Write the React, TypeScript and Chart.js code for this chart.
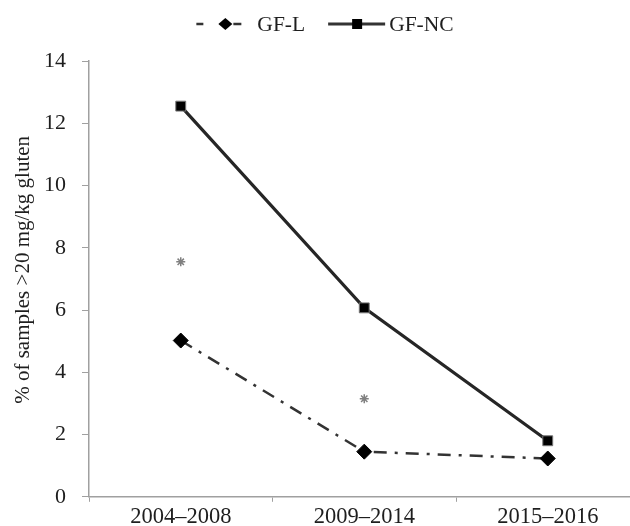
import React, { useEffect, useRef } from "react";
import { Chart, registerables } from "chart.js";

Chart.register(...registerables);

const categories = ["2004–2008", "2009–2014", "2015–2016"];
const gfL = [5.02, 1.45, 1.23];
const gfNC = [12.55, 6.07, 1.8];
const asterisks = [7.55, 3.15, null];
const yTicks = [0, 2, 4, 6, 8, 10, 12, 14];
const yTitle = "% of samples >20 mg/kg gluten";
const legendLabels = ["GF-L", "GF-NC"];

const FONT = "'Liberation Serif', 'Times New Roman', serif";
const INK = "#1e1e1e";
const AXIS = "#a0a0a0";

const legendPlugin = {
  id: "customLegend",
  afterDraw(chart: any) {
    const ctx = chart.ctx;
    ctx.save();
    // y-axis title
    ctx.font = `21px ${FONT}`;
    ctx.fillStyle = INK;
    ctx.textAlign = "center";
    ctx.textBaseline = "middle";
    ctx.translate(23, (chart.chartArea.top + chart.chartArea.bottom) / 2 - 9);
    ctx.rotate(-Math.PI / 2);
    ctx.fillText(yTitle, 0, 0);
    ctx.restore();

    ctx.save();
    ctx.font = `21.5px ${FONT}`;
    ctx.fillStyle = INK;
    ctx.textBaseline = "middle";
    const y = 24;
    const w1 = ctx.measureText(legendLabels[0]).width;
    const w2 = ctx.measureText(legendLabels[1]).width;
    const total = 45 + 16 + w1 + 23 + 57 + 4 + w2;
    let x = 325 - total / 2;
    ctx.strokeStyle = "#333";
    ctx.lineWidth = 2.5;
    ctx.beginPath();
    ctx.moveTo(x, y);
    ctx.lineTo(x + 7, y);
    ctx.moveTo(x + 37, y);
    ctx.lineTo(x + 45, y);
    ctx.stroke();
    ctx.fillStyle = "#000";
    ctx.beginPath();
    const dx = x + 29;
    ctx.moveTo(dx - 7, y);
    ctx.lineTo(dx, y - 6);
    ctx.lineTo(dx + 7, y);
    ctx.lineTo(dx, y + 6);
    ctx.closePath();
    ctx.fill();
    x += 45 + 16;
    ctx.fillStyle = INK;
    ctx.fillText(legendLabels[0], x, y + 1);
    x += w1 + 23;
    ctx.strokeStyle = "#333";
    ctx.lineWidth = 3;
    ctx.beginPath();
    ctx.moveTo(x, y);
    ctx.lineTo(x + 57, y);
    ctx.stroke();
    ctx.fillStyle = "#000";
    ctx.fillRect(x + 24, y - 5, 10, 10);
    x += 57 + 4;
    ctx.fillStyle = INK;
    ctx.fillText(legendLabels[1], x, y + 1);
    ctx.restore();
  },
};

export default function App() {
  const ref = useRef<HTMLCanvasElement | null>(null);

  useEffect(() => {
    if (!ref.current) return;
    const chart = new Chart(ref.current, {
      type: "line",
      data: {
        labels: categories,
        datasets: [
          {
            label: legendLabels[1],
            data: gfNC,
            borderColor: "#262626",
            borderWidth: 3.2,
            pointStyle: "rect",
            pointRadius: 7,
            pointBackgroundColor: "#000",
            pointBorderColor: "#777",
            pointBorderWidth: 1,
            tension: 0,
          },
          {
            label: legendLabels[0],
            data: gfL,
            borderColor: "#333",
            borderWidth: 2.5,
            borderDash: [13, 8, 3, 8],
            pointStyle: "rectRot",
            pointRadius: 7.5,
            pointBackgroundColor: "#000",
            pointBorderColor: "#000",
            pointBorderWidth: 1,
            tension: 0,
          },
          {
            label: "*",
            data: asterisks as any,
            showLine: false,
            pointStyle: "star",
            pointRadius: 4.5,
            pointBorderColor: "#808080",
            pointBorderWidth: 1.5,
            pointBackgroundColor: "#808080",
          },
        ],
      },
      options: {
        animation: false,
        responsive: false,
        events: [],
        layout: { padding: { top: 61, left: 0, right: 0, bottom: 0 } },
        plugins: {
          legend: { display: false },
          tooltip: { enabled: false },
          title: { display: false },
        },
        scales: {
          x: {
            type: "category",
            offset: true,
            grid: {
              offset: true,
              drawOnChartArea: false,
              color: AXIS,
              tickLength: 5,
              tickWidth: 1,
            },
            border: { color: AXIS, width: 1.5 },
            ticks: {
              color: INK,
              font: { family: FONT, size: 22.5 },
              padding: 2,
              maxRotation: 0,
            },
            afterFit: (scale: any) => {
              scale.height = 29;
            },
          },
          y: {
            min: 0,
            max: 14,
            afterBuildTicks: (scale: any) => {
              scale.ticks = yTicks.map((v) => ({ value: v }));
            },
            grid: {
              drawOnChartArea: false,
              color: AXIS,
              tickLength: 7,
              tickWidth: 1,
            },
            border: { color: AXIS, width: 1.5 },
            ticks: {
              color: INK,
              font: { family: FONT, size: 22 },
              padding: 16,
            },
            afterFit: (scale: any) => {
              scale.width = 89;
            },
          },
        },
      },
      plugins: [legendPlugin],
    });
    return () => chart.destroy();
  }, []);

  return (
    <div
      style={{
        position: "fixed",
        left: 0,
        top: 0,
        width: 630,
        height: 526,
        overflow: "hidden",
        background: "#fff",
      }}
    >
      <canvas ref={ref} width={648} height={526} style={{ display: "block" }} />
    </div>
  );
}
